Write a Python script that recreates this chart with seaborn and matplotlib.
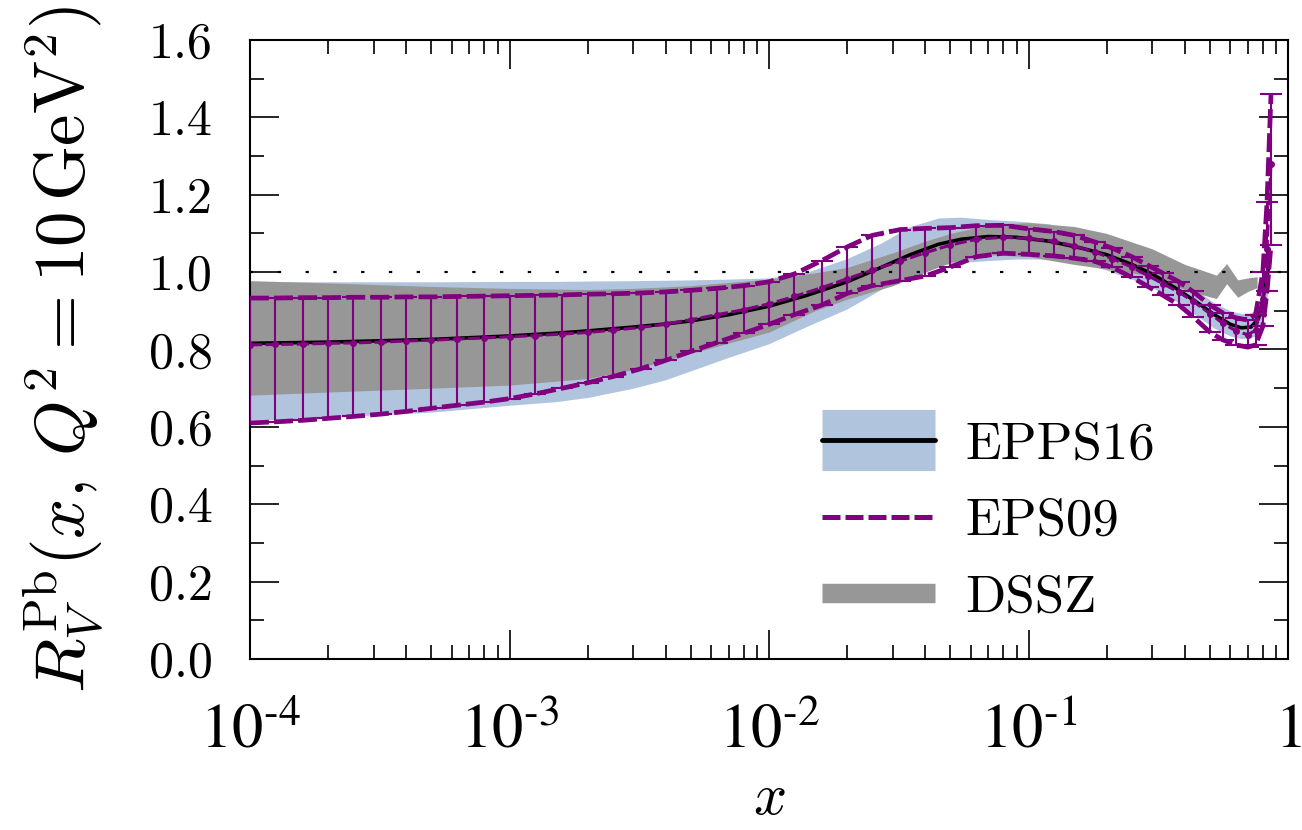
import numpy as np
import pandas as pd
import matplotlib
matplotlib.use('Agg')
import matplotlib.pyplot as plt
from matplotlib.lines import Line2D
from matplotlib.ticker import FixedLocator, LogLocator, NullFormatter, MultipleLocator
import seaborn as sns

# EPPS16 central value and uncertainty band
epps_x = [1e-4, 2e-4, 5e-4, 1e-3, 1.5e-3, 2e-3, 3e-3, 4e-3, 5e-3, 7e-3, 0.01, 0.014, 0.02, 0.027,
          0.035, 0.045, 0.055, 0.07, 0.09, 0.12, 0.16, 0.2, 0.25, 0.3, 0.37, 0.45,
          0.52, 0.6, 0.66, 0.72, 0.77, 0.8, 0.83, 0.85]
epps_central = [0.816, 0.819, 0.826, 0.835, 0.842, 0.848, 0.858, 0.866, 0.874, 0.890, 0.912, 0.940,
                0.975, 1.012, 1.045, 1.072, 1.085, 1.092, 1.090, 1.080, 1.062, 1.045, 1.020, 0.995,
                0.958, 0.920, 0.890, 0.865, 0.856, 0.858, 0.880, 0.930, 0.990, 1.030]
epps_upper = [0.975, 0.975, 0.975, 0.976, 0.976, 0.977, 0.978, 0.979, 0.980, 0.982, 0.985, 1.000,
              1.035, 1.075, 1.118, 1.140, 1.142, 1.136, 1.132, 1.125, 1.100, 1.075, 1.045, 1.020,
              0.985, 0.950, 0.920, 0.900, 0.893, 0.895, 0.910, 0.950, 1.020, 1.080]
epps_lower = [0.617, 0.625, 0.638, 0.656, 0.665, 0.676, 0.700, 0.722, 0.745, 0.780, 0.815, 0.860,
              0.905, 0.955, 0.995, 1.018, 1.025, 1.030, 1.034, 1.034, 1.024, 1.005, 0.982, 0.960,
              0.925, 0.885, 0.855, 0.835, 0.828, 0.830, 0.840, 0.870, 0.930, 0.990]

# EPS09 central value with upper / lower error set
eps09_x = [1e-4, 1.25e-4, 1.6e-4, 2e-4, 2.5e-4, 3.2e-4, 4e-4, 5e-4, 6.3e-4, 8e-4,
           1e-3, 1.25e-3, 1.6e-3, 2e-3, 2.5e-3, 3.2e-3, 4e-3, 5e-3, 6.3e-3, 8e-3,
           0.01, 0.0125, 0.016, 0.02, 0.025, 0.032, 0.04, 0.05, 0.063, 0.08,
           0.1, 0.125, 0.15, 0.18, 0.21, 0.25, 0.29, 0.33, 0.38, 0.43,
           0.5, 0.56, 0.63, 0.7, 0.75, 0.8, 0.83, 0.86]
eps09_central = [0.812, 0.813, 0.814, 0.816, 0.817, 0.819, 0.822, 0.824, 0.827, 0.830,
                 0.833, 0.836, 0.840, 0.844, 0.850, 0.857, 0.866, 0.877, 0.890, 0.903,
                 0.918, 0.937, 0.960, 0.983, 1.005, 1.028, 1.050, 1.070, 1.085, 1.090,
                 1.087, 1.080, 1.068, 1.052, 1.035, 1.013, 0.990, 0.970, 0.948, 0.925,
                 0.893, 0.868, 0.848, 0.838, 0.850, 0.930, 1.060, 1.280]
eps09_upper = [0.933, 0.933, 0.934, 0.934, 0.935, 0.935, 0.936, 0.936, 0.937, 0.938,
               0.939, 0.940, 0.941, 0.943, 0.944, 0.946, 0.949, 0.953, 0.958, 0.965,
               0.975, 0.995, 1.030, 1.065, 1.095, 1.110, 1.113, 1.115, 1.120, 1.121,
               1.112, 1.105, 1.095, 1.078, 1.062, 1.040, 1.017, 0.997, 0.975, 0.950,
               0.915, 0.895, 0.882, 0.876, 0.890, 1.000, 1.180, 1.460]
eps09_lower = [0.610, 0.613, 0.617, 0.622, 0.627, 0.633, 0.640, 0.648, 0.656, 0.664,
               0.673, 0.685, 0.700, 0.714, 0.730, 0.750, 0.772, 0.795, 0.818, 0.842,
               0.865, 0.890, 0.915, 0.945, 0.965, 0.978, 0.990, 1.013, 1.040, 1.049,
               1.046, 1.042, 1.036, 1.028, 1.012, 0.987, 0.962, 0.940, 0.915, 0.885,
               0.845, 0.825, 0.812, 0.806, 0.812, 0.860, 0.950, 1.070]

# DSSZ uncertainty band
dssz_x = [1e-4, 2e-4, 5e-4, 1e-3, 2e-3, 3e-3, 5e-3, 0.01, 0.015, 0.02, 0.03, 0.04, 0.05,
          0.07, 0.1, 0.15, 0.2, 0.3, 0.4, 0.5, 0.53, 0.58, 0.64, 0.7, 0.76]
dssz_upper = [0.978, 0.972, 0.963, 0.958, 0.955, 0.958, 0.965, 0.982, 0.998, 1.012, 1.050, 1.080,
              1.100, 1.122, 1.128, 1.118, 1.100, 1.060, 1.020, 0.998, 0.992, 1.022, 0.980, 0.985,
              0.988]
dssz_lower = [0.682, 0.690, 0.700, 0.708, 0.725, 0.748, 0.790, 0.845, 0.900, 0.930, 0.965, 1.000,
              1.025, 1.045, 1.040, 1.020, 1.008, 0.990, 0.955, 0.936, 0.932, 0.970, 0.935, 0.950,
              0.960]

x_ticks = [1e-4, 1e-3, 1e-2, 1e-1, 1]
x_tick_labels = [r'$10^{\text{-}4}$', r'$10^{\text{-}3}$', r'$10^{\text{-}2}$',
                 r'$10^{\text{-}1}$', r'$1$']
y_ticks = [0.0, 0.2, 0.4, 0.6, 0.8, 1.0, 1.2, 1.4, 1.6]
y_tick_labels = ['0.0', '0.2', '0.4', '0.6', '0.8', '1.0', '1.2', '1.4', '1.6']
series_names = ['EPPS16', 'EPS09', 'DSSZ']

BLUE = '#b0c4de'
GRAY = '#979797'
PURPLE = '#800080'

sns.set_theme(style='ticks')
plt.rcParams['font.family'] = ['cmr10', 'DejaVu Serif']
plt.rcParams['mathtext.fontset'] = 'cm'
plt.rcParams['axes.unicode_minus'] = False
for key in ['text.color', 'axes.labelcolor', 'xtick.color', 'ytick.color', 'axes.edgecolor']:
    plt.rcParams[key] = 'black'

epps = pd.DataFrame({'x': epps_x, 'central': epps_central, 'upper': epps_upper, 'lower': epps_lower})
eps09 = pd.DataFrame({'x': eps09_x, 'central': eps09_central, 'upper': eps09_upper, 'lower': eps09_lower})
dssz = pd.DataFrame({'x': dssz_x, 'upper': dssz_upper, 'lower': dssz_lower})

fig = plt.figure(figsize=(13.02, 8.30), dpi=100)
ax = fig.add_axes([250 / 1302, 171 / 830, 1038 / 1302, 619 / 830])

ax.fill_between(epps['x'], epps['lower'], epps['upper'], color=BLUE, lw=0, zorder=1)
ax.fill_between(dssz['x'], dssz['lower'], dssz['upper'], color=GRAY, lw=0, zorder=2)
ax.axhline(1.0, color='black', lw=1.6, ls=(0, (1.5, 11)), zorder=2.5)

sns.lineplot(data=epps, x='x', y='central', color='black', lw=2.6, ax=ax, zorder=3)

dash = (0, (4, 1.1))
sns.lineplot(data=eps09, x='x', y='upper', color=PURPLE, lw=3.4, ls=dash, ax=ax, zorder=4)
sns.lineplot(data=eps09, x='x', y='lower', color=PURPLE, lw=3.4, ls=dash, ax=ax, zorder=4)
sns.lineplot(data=eps09, x='x', y='central', color=PURPLE, lw=2.2, ls=dash, ax=ax, zorder=4)
ax.errorbar(eps09['x'], eps09['central'],
            yerr=[eps09['central'] - eps09['lower'], eps09['upper'] - eps09['central']],
            fmt='o', ms=4, color=PURPLE, elinewidth=1.5, capsize=8, capthick=1.5, zorder=4)

ax.set_xscale('log')
ax.set_xlim(1e-4, 1)
ax.set_ylim(0, 1.6)
ax.xaxis.set_major_locator(FixedLocator(x_ticks))
ax.set_xticklabels(x_tick_labels)
ax.xaxis.set_minor_locator(LogLocator(base=10, subs=np.arange(2, 10)))
ax.xaxis.set_minor_formatter(NullFormatter())
ax.yaxis.set_major_locator(FixedLocator(y_ticks))
ax.set_yticklabels(y_tick_labels)
ax.yaxis.set_minor_locator(MultipleLocator(0.1))

ax.tick_params(which='both', direction='in', top=True, right=True, width=1.2, color='black')
ax.tick_params(which='major', length=21)
ax.tick_params(which='minor', length=10)
ax.tick_params(axis='x', which='major', labelsize=45, pad=32)
ax.tick_params(axis='y', which='major', labelsize=36, pad=27)
for lbl in ax.get_xticklabels():
    lbl.set_math_fontfamily('stix')
for s in ax.spines.values():
    s.set_linewidth(1.5)
    s.set_color('black')

ax.set_xlabel(r'$x$', fontsize=42)
ax.xaxis.set_label_coords(0.5, -0.185)
ax.set_ylabel(r'$R_V^{\rm Pb}(x,\, Q^2 = 10\,{\rm GeV}^2)$', fontsize=51)
ax.yaxis.set_label_coords(-0.14, 0.5)

handles = [
    (Line2D([], [], color=BLUE, lw=44, solid_capstyle='butt'),
     Line2D([], [], color='black', lw=3.5)),
    Line2D([], [], color=PURPLE, lw=3.6, ls=(0, (3.6, 1))),
    Line2D([], [], color=GRAY, lw=14, solid_capstyle='butt'),
]
ax.legend(handles, series_names, frameon=False, fontsize=38, loc='center left',
          bbox_to_anchor=(0.551, 0.222), borderpad=0, borderaxespad=0,
          handlelength=2.14, handletextpad=0.57, labelspacing=0.56)

fig.savefig('out.png', dpi=100)
